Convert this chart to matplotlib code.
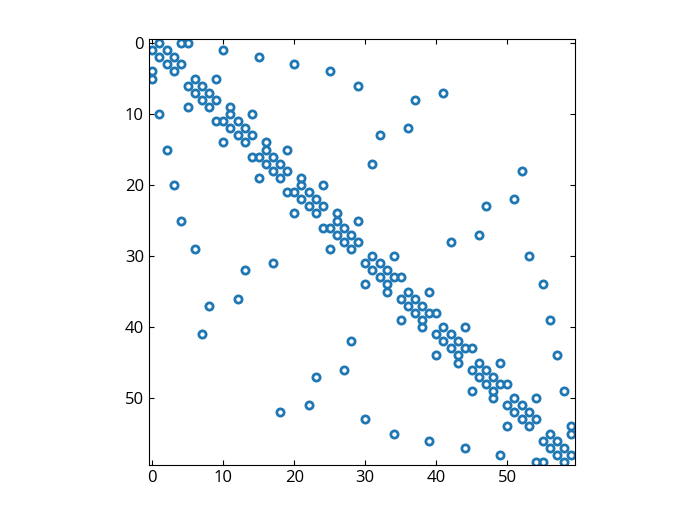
import matplotlib
matplotlib.use("Agg")
import matplotlib.pyplot as plt
import numpy as np

# Neighbours of each node (row index -> nonzero column indices)
neighbors = [
    [1, 4, 5], [0, 2, 10], [1, 3, 15], [2, 4, 20], [0, 3, 25],
    [0, 6, 9], [5, 7, 29], [6, 8, 41], [7, 9, 37], [5, 8, 11],
    [1, 11, 14], [9, 10, 12], [11, 13, 36], [12, 14, 32], [10, 13, 16],
    [2, 16, 19], [14, 15, 17], [16, 18, 31], [17, 19, 52], [15, 18, 21],
    [3, 21, 24], [19, 20, 22], [21, 23, 51], [22, 24, 47], [20, 23, 26],
    [4, 26, 29], [24, 25, 27], [26, 28, 46], [27, 29, 42], [6, 25, 28],
    [31, 34, 53], [17, 30, 32], [13, 31, 33], [32, 34, 35], [30, 33, 55],
    [33, 36, 39], [12, 35, 37], [8, 36, 38], [37, 39, 40], [35, 38, 56],
    [38, 41, 44], [7, 40, 42], [28, 41, 43], [42, 44, 45], [40, 43, 57],
    [43, 46, 49], [27, 45, 47], [23, 46, 48], [47, 49, 50], [45, 48, 58],
    [48, 51, 54], [22, 50, 52], [18, 51, 53], [30, 52, 54], [50, 53, 59],
    [34, 56, 59], [39, 55, 57], [44, 56, 58], [49, 57, 59], [54, 55, 58],
]
n_nodes = 60
x_ticks = [0, 10, 20, 30, 40, 50]
y_ticks = [0, 10, 20, 30, 40, 50]

M = np.zeros((n_nodes, n_nodes))
for r, cols in enumerate(neighbors):
    for c in cols:
        M[r, c] = 1

fig = plt.figure(figsize=(7, 5.25), dpi=100)
ax = fig.add_axes([148.75 / 700, 59.55 / 525, 426 / 700, 426 / 525])
ax.spy(M, marker='o', markersize=5.2, markerfacecolor='none',
       markeredgecolor='#1f77b4', markeredgewidth=2.0)
ax.xaxis.set_ticks_position('both')
ax.tick_params(axis='x', which='both', labelbottom=True, labeltop=False)
ax.yaxis.set_ticks_position('both')
ax.tick_params(axis='both', direction='in', length=3.5, labelsize=12)
ax.set_xticks(x_ticks)
ax.set_yticks(y_ticks)
for lab in ax.get_xticklabels() + ax.get_yticklabels():
    lab.set_fontfamily('Open Sans')
ax.set_xlim(-0.5, n_nodes - 0.5)
ax.set_ylim(n_nodes - 0.5, -0.5)

fig.savefig("out.png", dpi=100)
